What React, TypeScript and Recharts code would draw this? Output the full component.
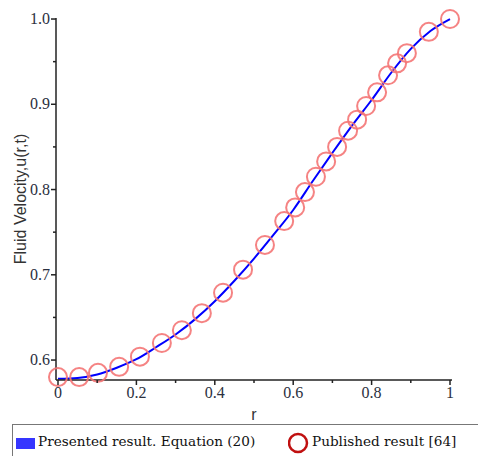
import React from 'react';
import { ComposedChart, Line, Scatter, XAxis, YAxis } from 'recharts';

const lineR = [0, 0.05, 0.1, 0.15, 0.2, 0.25, 0.3, 0.35, 0.4, 0.45, 0.5, 0.55, 0.6, 0.65, 0.7, 0.75, 0.8, 0.85, 0.9, 0.95, 1.0];
const lineU = [0.578, 0.579, 0.583, 0.591, 0.601, 0.615, 0.630, 0.648, 0.669, 0.693, 0.719, 0.747, 0.776, 0.810, 0.843, 0.875, 0.905, 0.937, 0.965, 0.986, 1.0];

const pubR = [0, 0.054, 0.102, 0.156, 0.209, 0.265, 0.316, 0.367, 0.421, 0.472, 0.528, 0.577, 0.605, 0.630, 0.658, 0.684, 0.712, 0.740, 0.763, 0.786, 0.814, 0.842, 0.865, 0.890, 0.946, 1.0];
const pubU = [0.580, 0.580, 0.585, 0.592, 0.604, 0.620, 0.635, 0.655, 0.679, 0.706, 0.735, 0.763, 0.779, 0.797, 0.815, 0.833, 0.850, 0.869, 0.882, 0.898, 0.914, 0.934, 0.948, 0.960, 0.985, 1.0];

const xTicks = [0, 0.1, 0.2, 0.3, 0.4, 0.5, 0.6, 0.7, 0.8, 0.9, 1.0];
const xMajorLabels = ['0', '', '0.2', '', '0.4', '', '0.6', '', '0.8', '', '1'];
const yTicks = [0.6, 0.65, 0.7, 0.75, 0.8, 0.85, 0.9, 0.95, 1.0];
const yMajorLabels = ['0.6', '', '0.7', '', '0.8', '', '0.9', '', '1.0'];

const legendLine = 'Presented result. Equation (20)';
const legendPub = 'Published result [64]';

const lineData = lineR.map((r, i) => ({ r, u: lineU[i] }));
const pubData = pubR.map((r, i) => ({ r, u: pubU[i] }));

const TICK_COLOR = '#2b3040';

const XTick = (props: any) => {
  const { x, y, index } = props;
  const label = xMajorLabels[index] ?? '';
  const major = label !== '';
  return (
    <g>
      <line x1={x} x2={x} y1={y} y2={y + (major ? 5 : 3)} stroke="#222" strokeWidth={1.5} />
      {major && (
        <text x={x} y={y + 18} textAnchor="middle" fontFamily="Liberation Serif" fontSize={16} fill={TICK_COLOR}>
          {label}
        </text>
      )}
    </g>
  );
};

const YTick = (props: any) => {
  const { x, y, index } = props;
  const label = yMajorLabels[index] ?? '';
  const major = label !== '';
  return (
    <g>
      <line x1={x} x2={x - (major ? 5 : 3)} y1={y} y2={y} stroke="#222" strokeWidth={1.5} />
      {major && (
        <text x={x - 6} y={y + 5} textAnchor="end" fontFamily="Liberation Serif" fontSize={16} fill={TICK_COLOR}>
          {label}
        </text>
      )}
    </g>
  );
};

const Ring = (props: any) => {
  const { cx, cy } = props;
  return <circle cx={cx} cy={cy} r={9} fill="none" stroke="#f47676" strokeWidth={2} strokeOpacity={0.9} />;
};

const LegendBox = () => (
  <div
    style={{
      position: 'absolute',
      left: 12,
      top: 424,
      boxSizing: 'border-box',
      width: 480,
      height: 40,
      borderTop: '1.5px solid #777',
      borderLeft: '1.5px solid #777',
      fontFamily: 'DejaVu Serif',
      fontSize: 13.6,
      color: '#111',
    }}
  >
    <div style={{ position: 'absolute', left: 3, top: 13, width: 19, height: 11, background: '#3535ff' }} />
    <div style={{ position: 'absolute', left: 25, top: 8, whiteSpace: 'nowrap' }}>{legendLine}</div>
    <svg style={{ position: 'absolute', left: 275, top: 7 }} width={24} height={24}>
      <circle cx={10} cy={11} r={9} fill="none" stroke="#c01010" strokeWidth={2.5} />
    </svg>
    <div style={{ position: 'absolute', left: 299, top: 8, whiteSpace: 'nowrap' }}>{legendPub}</div>
  </div>
);

export default function App() {
  return (
    <div style={{ position: 'absolute', left: 0, top: 0, width: 478, height: 456, background: '#fff', overflow: 'hidden' }}>
      <ComposedChart
        width={478}
        height={456}
        margin={{ top: 18, right: 26, bottom: 36, left: 0 }}
      >
        <XAxis
          type="number"
          dataKey="r"
          domain={[-0.0051, 1.0051]}
          ticks={xTicks}
          interval={0}
          tickSize={0}
          tickMargin={0}
          tickLine={false}
          tick={<XTick />}
          axisLine={{ stroke: '#222', strokeWidth: 1.5 }}
          height={40}
          label={{ value: 'r', position: 'insideBottom', offset: 0, fontFamily: 'Liberation Sans', fontSize: 16, fill: '#333' }}
        />
        <YAxis
          type="number"
          dataKey="u"
          domain={[0.5766, 1.0012]}
          ticks={yTicks}
          interval={0}
          tickSize={0}
          tickMargin={0}
          tickLine={false}
          tick={<YTick />}
          axisLine={{ stroke: '#222', strokeWidth: 1.5 }}
          width={56}
          label={{ value: 'Fluid Velocity,u(r,t)', angle: -90, position: 'insideLeft', offset: 20, fontFamily: 'Liberation Sans', fontSize: 16, fill: '#333', style: { textAnchor: 'middle' } }}
        />
        <XAxis xAxisId="top" orientation="top" type="number" domain={[0, 1]} tick={false} tickLine={false} axisLine={{ stroke: '#222', strokeWidth: 1.5 }} height={0} />
        <YAxis yAxisId="right" orientation="right" type="number" domain={[0, 1]} tick={false} tickLine={false} axisLine={{ stroke: '#222', strokeWidth: 1.5 }} width={0} />
        <Line
          data={lineData}
          dataKey="u"
          type="monotone"
          stroke="#0000ff"
          strokeWidth={2}
          dot={false}
          isAnimationActive={false}
          legendType="none"
        />
        <Scatter data={pubData} dataKey="u" shape={<Ring />} isAnimationActive={false} legendType="none" />
      </ComposedChart>
      <LegendBox />
    </div>
  );
}
